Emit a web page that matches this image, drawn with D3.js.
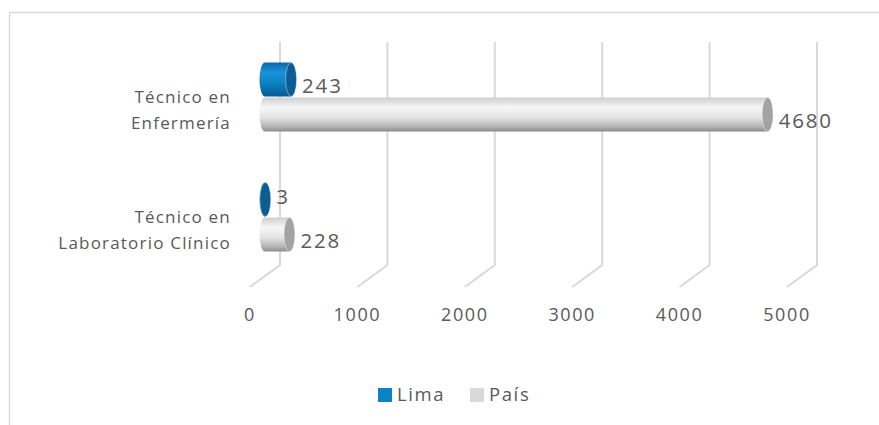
<!DOCTYPE html>
<html>
<head>
<meta charset="utf-8">
<script src="https://cdn.jsdelivr.net/npm/d3@7"></script>
<style>
  body { margin: 0; background: #fff; }
  text { font-family: "Open Sans", sans-serif; fill: #595959; }
</style>
</head>
<body>
<div id="chart"></div>
<script>
var width = 879;
var height = 425;

var categories = ["Técnico en Enfermería", "Técnico en Laboratorio Clínico"];
var categoryLines = [["Técnico en", "Enfermería"], ["Técnico en", "Laboratorio Clínico"]];
var seriesNames = ["Lima", "País"];
var limaValues = [243, 3];
var paisValues = [4680, 228];
var tickValues = [0, 1000, 2000, 3000, 4000, 5000];

var depthX = 15, depthY = 11;   // half of the 3d depth offset
var rx = 5.5;

var svg = d3.select("#chart").append("svg")
  .attr("width", width)
  .attr("height", height);

// gradients for the cylinders
var defs = svg.append("defs");
function grad(id, stops) {
  var g = defs.append("linearGradient").attr("id", id)
    .attr("x1", 0).attr("y1", 0).attr("x2", 0).attr("y2", 1);
  stops.forEach(function(s) {
    g.append("stop").attr("offset", s[0]).attr("stop-color", s[1]);
  });
}
grad("gLima", [[0, "#0a68a6"], [0.3, "#1a93d8"], [0.55, "#0f84c9"], [1, "#075a92"]]);
grad("gPais", [[0, "#cfcfcf"], [0.3, "#f7f7f7"], [0.6, "#e2e2e2"], [0.85, "#b5b5b5"], [1, "#8c8c8c"]]);

// outer frame
svg.append("path")
  .attr("d", "M9.5,425 V12.5 H879")
  .attr("fill", "none")
  .attr("stroke", "#d9d9d9")
  .attr("stroke-width", 1.3);

// scales on the middle plane
var x = d3.scaleLinear().domain([0, 5000]).range([265, 802]);
var y = d3.scaleBand().domain(categories).range([37, 277]);
var ySeries = d3.scaleBand().domain(seriesNames).range([25, 95]);

var wallTop = 42, wallBottom = 265;

// gridlines: back wall + floor
var grid = svg.append("g");
grid.selectAll("path")
  .data(tickValues)
  .enter().append("path")
  .attr("d", function(d) {
    var bx = x(d) + depthX;
    return "M" + bx + "," + wallTop + " V" + wallBottom +
      " L" + (x(d) - depthX) + "," + (wallBottom + 2 * depthY);
  })
  .attr("fill", "none")
  .attr("stroke", "#d9d9d9")
  .attr("stroke-width", 2);

// axis labels on the front edge
svg.append("g").selectAll("text")
  .data(tickValues)
  .enter().append("text")
  .attr("x", function(d) { return x(d) - depthX; })
  .attr("y", 315)
  .attr("dy", "0.35em")
  .attr("text-anchor", "middle")
  .attr("font-size", 18)
  .attr("letter-spacing", 1.6)
  .text(function(d) { return d; });

// category labels
var cat = svg.append("g").selectAll("text")
  .data(categories)
  .enter().append("text")
  .attr("text-anchor", "end")
  .attr("font-size", 17)
  .attr("letter-spacing", 1.2)
  .attr("y", function(d) { return y(d) + y.bandwidth() / 2; });
cat.selectAll("tspan")
  .data(function(d, i) { return categoryLines[i]; })
  .enter().append("tspan")
  .attr("x", 231)
  .attr("dy", function(d, i) { return i === 0 ? "0.35em" : "1.55em"; })
  .text(function(d) { return d; });

// bars
var rows = [];
categories.forEach(function(c, i) {
  rows.push({ cat: c, series: "Lima", value: limaValues[i], fill: "url(#gLima)", cap: "#0b5d93" });
  rows.push({ cat: c, series: "País", value: paisValues[i], fill: "url(#gPais)", cap: "#a3a3a3" });
});
var bars = svg.append("g").selectAll("g")
  .data(rows)
  .enter().append("g");

bars.each(function(d) {
  var g = d3.select(this);
  var h = ySeries.bandwidth() - 1;
  var cy = y(d.cat) + ySeries(d.series) + ySeries.bandwidth() / 2;
  var x0 = x(0), x1 = x(d.value);
  var top = cy - h / 2, ry = h / 2;
  // body: left half-ellipse + rect
  g.append("path")
    .attr("d", "M" + x0 + "," + top +
      " A" + rx + "," + ry + " 0 0 0 " + x0 + "," + (top + h) +
      " H" + x1 + " V" + top + " Z")
    .attr("fill", d.fill);
  // end cap
  g.append("ellipse")
    .attr("cx", x1).attr("cy", cy)
    .attr("rx", rx).attr("ry", ry)
    .attr("fill", d.cap)
    .attr("stroke", "#fff")
    .attr("stroke-opacity", 0.5)
    .attr("stroke-width", 0.8);
  g.append("text")
    .attr("x", x1 + 11)
    .attr("y", cy + (d.value < 10 ? -3 : 6))
    .attr("dy", "0.35em")
    .attr("font-size", 20.5)
    .attr("letter-spacing", 1.8)
    .text(d.value);
});

// legend
var legendColors = ["#0a82c8", "#d9d9d9"];
var legendX = [378, 470];
var legend = svg.append("g").selectAll("g")
  .data(seriesNames)
  .enter().append("g")
  .attr("transform", function(d, i) { return "translate(" + legendX[i] + ",388)"; });
legend.append("rect")
  .attr("width", 14).attr("height", 14)
  .attr("fill", function(d, i) { return legendColors[i]; });
legend.append("text")
  .attr("x", 19).attr("y", 7)
  .attr("dy", "0.35em")
  .attr("font-size", 18.5)
  .attr("letter-spacing", 1.6)
  .text(function(d) { return d; });
</script>
</body>
</html>
